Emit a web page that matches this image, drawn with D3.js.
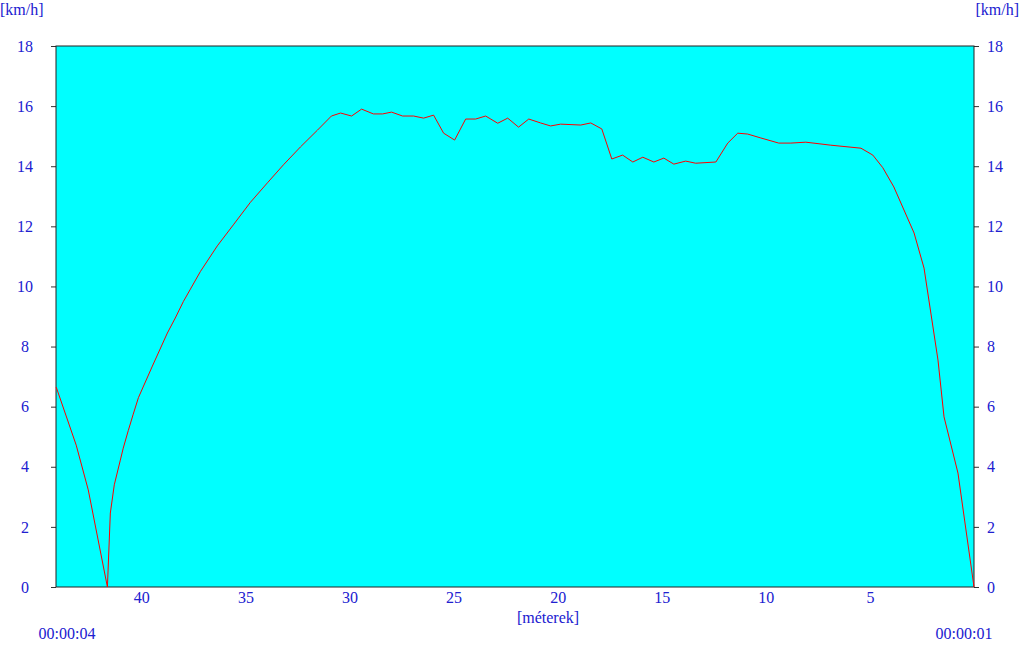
<!DOCTYPE html>
<html>
<head>
<meta charset="utf-8">
<script src="https://cdn.jsdelivr.net/npm/d3@7"></script>
<style>
  body { margin: 0; background: #fff; }
  svg text { font-family: "Liberation Serif", "Times New Roman", serif; }
</style>
</head>
<body>
<div id="chart-area"></div>
<script>
const MARGIN = { LEFT: 56, RIGHT: 50, TOP: 46, BOTTOM: 58 }
const WIDTH = 1024 - MARGIN.LEFT - MARGIN.RIGHT
const HEIGHT = 645 - MARGIN.TOP - MARGIN.BOTTOM

const TEXT_COLOR = "#2020d0"

// distance [m], speed [km/h]
const distance = [44.09, 43.13, 42.55, 41.63, 41.49, 41.3, 41.01, 40.87, 40.63, 40.39, 40.14, 39.47, 38.75, 38.37, 37.98,
    37.16, 36.35, 35.58, 34.76, 33.94, 33.17, 32.36, 31.54,
    30.87, 30.43, 29.90, 29.42, 28.85, 28.41, 27.98, 27.45, 26.92, 26.44, 25.96, 25.48, 24.95, 24.42, 23.94,
    23.46, 22.88, 22.40, 21.88, 21.39, 20.82, 20.34, 19.86, 18.89, 18.41, 17.88, 17.40, 16.88, 16.39, 15.91,
    15.38, 14.90, 14.42, 13.85, 13.37, 12.40, 11.83, 11.35, 10.87, 10.24, 9.38, 8.80, 8.08, 6.88, 5.43,
    4.86, 4.38, 3.85, 2.88, 2.40, 1.73, 1.44, 0.77, 0.0]
const speed = [6.65, 4.72, 3.23, 0.0, 2.46, 3.4, 4.22, 4.62, 5.2, 5.75, 6.3, 7.35, 8.45, 8.95, 9.5,
    10.5, 11.35, 12.05, 12.8, 13.45, 14.05, 14.64, 15.2,
    15.67, 15.77, 15.67, 15.90, 15.74, 15.74, 15.80, 15.67, 15.67, 15.60, 15.70, 15.10, 14.87, 15.57, 15.57,
    15.67, 15.43, 15.60, 15.30, 15.57, 15.44, 15.34, 15.40, 15.37, 15.44, 15.24, 14.24, 14.37, 14.14, 14.30,
    14.14, 14.27, 14.07, 14.17, 14.10, 14.14, 14.77, 15.10, 15.07, 14.94, 14.77, 14.77, 14.80, 14.70, 14.60,
    14.37, 13.95, 13.31, 11.78, 10.61, 7.55, 5.66, 3.79, 0.0]

const xTicks = [40, 35, 30, 25, 20, 15, 10, 5]
const yTicks = [0, 2, 4, 6, 8, 10, 12, 14, 16, 18]
const unitLabel = "[km/h]"
const xLabelText = "[méterek]"
const timeStart = "00:00:04"
const timeEnd = "00:00:01"

const data = distance.map((d, i) => ({ x: d, y: speed[i] }))

const svg = d3.select("#chart-area").append("svg")
    .attr("width", 1024)
    .attr("height", 645)

const g = svg.append("g")
    .attr("transform", `translate(${MARGIN.LEFT}, ${MARGIN.TOP})`)

// Scales
const x = d3.scaleLinear()
    .range([0, WIDTH])
    .domain([44.1, 0])

const y = d3.scaleLinear()
    .range([HEIGHT, 0])
    .domain([0, 18])

// Plot background
g.append("rect")
    .attr("width", WIDTH)
    .attr("height", HEIGHT)
    .attr("fill", "#00ffff")

// Left axis
const yAxisLeft = g.append("g")
    .call(d3.axisLeft(y).tickValues(yTicks).tickSize(5).tickPadding(0))
yAxisLeft.select(".domain").remove()
yAxisLeft.selectAll("line").attr("stroke", "#333")
yAxisLeft.selectAll("text")
    .attr("x", -31)
    .attr("text-anchor", "middle")
    .attr("font-size", "16px")
    .attr("fill", TEXT_COLOR)

// Right axis
const yAxisRight = g.append("g")
    .attr("transform", `translate(${WIDTH}, 0)`)
    .call(d3.axisRight(y).tickValues(yTicks).tickSize(5).tickPadding(8))
yAxisRight.select(".domain").remove()
yAxisRight.selectAll("line").attr("stroke", "#333")
yAxisRight.selectAll("text")
    .attr("font-size", "16px")
    .attr("fill", TEXT_COLOR)

// Bottom axis
const xAxis = g.append("g")
    .attr("transform", `translate(0, ${HEIGHT})`)
    .call(d3.axisBottom(x).tickValues(xTicks).tickSize(0).tickPadding(5))
xAxis.select(".domain").remove()
xAxis.selectAll("text")
    .attr("font-size", "16px")
    .attr("fill", TEXT_COLOR)

// Frame
g.append("rect")
    .attr("width", WIDTH)
    .attr("height", HEIGHT)
    .attr("fill", "none")
    .attr("stroke", "#222")
    .attr("stroke-width", 1)

// Speed line
const line = d3.line()
    .x(d => x(d.x))
    .y(d => y(d.y))

g.append("path")
    .datum(data)
    .attr("d", line)
    .attr("fill", "none")
    .attr("stroke", "#ff0000")
    .attr("stroke-width", 1)

// Labels
svg.append("text")
    .attr("x", 0)
    .attr("y", 15)
    .attr("font-size", "16px")
    .attr("fill", TEXT_COLOR)
    .text(unitLabel)
svg.append("text")
    .attr("x", 1019)
    .attr("y", 15)
    .attr("text-anchor", "end")
    .attr("font-size", "16px")
    .attr("fill", TEXT_COLOR)
    .text(unitLabel)
svg.append("text")
    .attr("x", 548)
    .attr("y", 623)
    .attr("text-anchor", "middle")
    .attr("font-size", "16px")
    .attr("fill", TEXT_COLOR)
    .text(xLabelText)
svg.append("text")
    .attr("x", 67)
    .attr("y", 639)
    .attr("text-anchor", "middle")
    .attr("font-size", "16px")
    .attr("fill", TEXT_COLOR)
    .text(timeStart)
svg.append("text")
    .attr("x", 964)
    .attr("y", 639)
    .attr("text-anchor", "middle")
    .attr("font-size", "16px")
    .attr("fill", TEXT_COLOR)
    .text(timeEnd)
</script>
</body>
</html>
